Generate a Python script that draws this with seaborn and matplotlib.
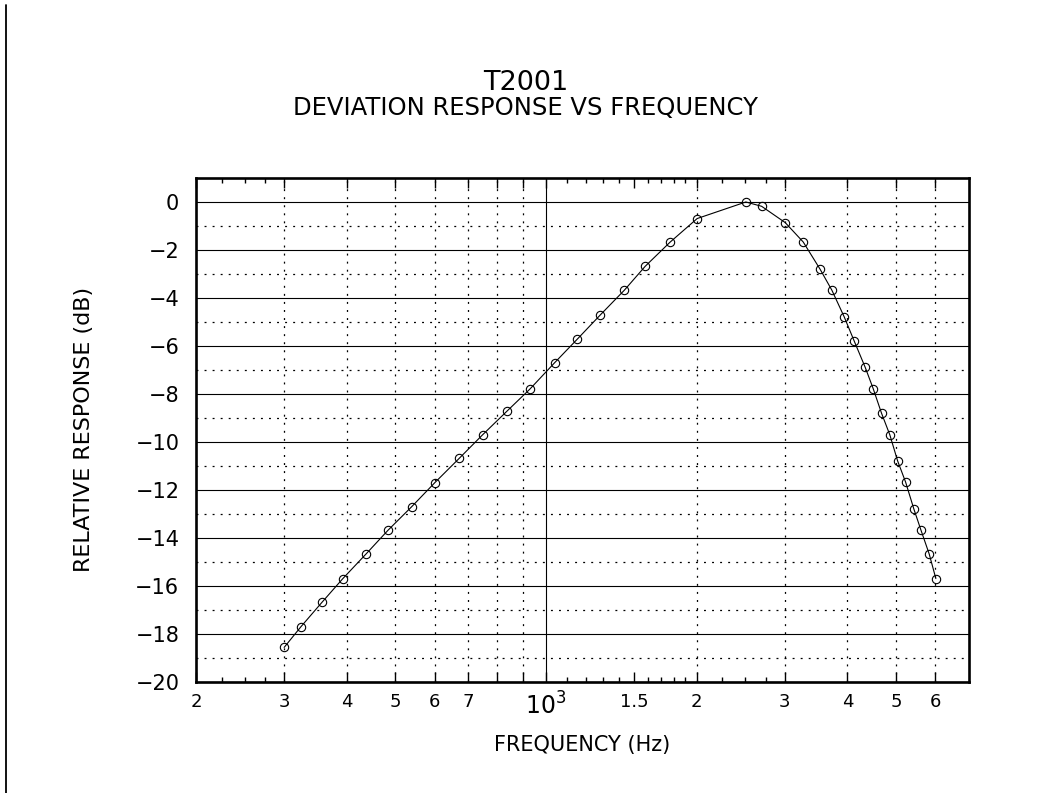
import numpy as np
import pandas as pd
import matplotlib
matplotlib.use("Agg")
import matplotlib.pyplot as plt
import matplotlib.ticker as mticker
from matplotlib.lines import Line2D
import seaborn as sns

# ---- data ----
freq_hz = [300, 324, 357, 393, 437, 484, 539, 600, 671, 747, 837, 929,
           1041, 1155, 1284, 1434, 1579, 1769, 2005, 2508, 2697, 3006,
           3266, 3526, 3726, 3943, 4129, 4342, 4505, 4682, 4864, 5040,
           5230, 5430, 5610, 5830, 6010]
response_db = [-18.57, -17.71, -16.69, -15.70, -14.68, -13.68, -12.71, -11.70,
               -10.69, -9.71, -8.71, -7.80, -6.70, -5.72, -4.71, -3.68, -2.68,
               -1.68, -0.69, 0.0, -0.18, -0.86, -1.67, -2.79, -3.68, -4.79,
               -5.80, -6.89, -7.78, -8.81, -9.71, -10.79, -11.68, -12.79,
               -13.67, -14.68, -15.70]

x_major_ticks = [200, 300, 400, 500, 600, 700, 800, 900, 1000, 1500, 2000, 3000, 4000, 5000, 6000]
x_major_labels = ['2', '3', '4', '5', '6', '7', '', '', '$10^3$', '1.5', '2', '3', '4', '5', '6']
x_minor_ticks = [225, 250, 275, 1100, 1200, 1300, 1400, 1600, 1700, 1800, 1900, 2250, 2500, 2750]
x_dotted_grid = [300, 400, 500, 600, 700, 800, 900, 2000, 3000, 4000, 5000, 6000]
x_solid_grid = [1000]
y_major_ticks = list(range(-20, 1, 2))
y_minor_ticks = list(range(-19, 0, 2))

title_text = "T2001"
subtitle_text = "DEVIATION RESPONSE VS FREQUENCY"
x_label = "FREQUENCY (Hz)"
y_label = "RELATIVE RESPONSE (dB)"

df = pd.DataFrame({"freq": freq_hz, "db": response_db})

sns.set_style("white")
plt.rcParams['font.family'] = ['DejaVu Sans']
plt.rcParams['lines.scale_dashes'] = False
plt.rcParams['mathtext.fontset'] = 'dejavusans'
plt.rcParams['text.color'] = 'black'
plt.rcParams['axes.labelcolor'] = 'black'
plt.rcParams['xtick.color'] = 'black'
plt.rcParams['ytick.color'] = 'black'

W, H = 1051, 793
fig = plt.figure(figsize=(W / 100, H / 100), dpi=100)
left, right, top, bottom = 196, 969, 178, 681.7
ax = fig.add_axes([left / W, 1 - bottom / H, (right - left) / W, (bottom - top) / H])

ax.set_xscale('log')
ax.set_xlim(200, 7000)
ax.set_ylim(-20, 1)

dot = (0, (1.4, 4.4))
for v in x_dotted_grid:
    ax.axvline(v, color='black', lw=0.9, ls=dot, zorder=1)
for v in x_solid_grid:
    ax.axvline(v, color='black', lw=0.8, zorder=1)
for v in y_major_ticks:
    ax.axhline(v, color='black', lw=0.8, zorder=1)
for v in y_minor_ticks:
    ax.axhline(v, color='black', lw=0.9, ls=dot, zorder=1)

sns.lineplot(data=df, x="freq", y="db", ax=ax, color='black', lw=0.8,
             marker='o', markersize=6, markerfacecolor='none',
             markeredgecolor='black', markeredgewidth=0.8, zorder=3)

ax.xaxis.set_major_locator(mticker.FixedLocator(x_major_ticks))
ax.xaxis.set_major_formatter(mticker.FixedFormatter(x_major_labels))
ax.xaxis.set_minor_locator(mticker.FixedLocator(x_minor_ticks))
ax.xaxis.set_minor_formatter(mticker.NullFormatter())
ax.yaxis.set_major_locator(mticker.FixedLocator(y_major_ticks))
ax.yaxis.set_minor_locator(mticker.FixedLocator(y_minor_ticks))
ax.yaxis.set_major_formatter(mticker.FuncFormatter(lambda v, p: f"{int(v)}".replace('-', '\u2212')))

ax.tick_params(axis='x', which='major', direction='in', length=7, width=1,
               top=True, bottom=True, labelsize=13, pad=8, color='black')
ax.tick_params(axis='x', which='minor', direction='in', length=3.5, width=1,
               top=True, bottom=True, color='black')
ax.tick_params(axis='y', which='both', direction='in', length=0,
               left=True, right=True, labelsize=15, pad=12)

for s in ax.spines.values():
    s.set_visible(True)
    s.set_linewidth(1.9)
    s.set_color('black')

ax.set_xlabel(x_label, fontsize=15, labelpad=11)
ax.set_ylabel(y_label, fontsize=16, labelpad=30)
ax.grid(False)

fig.canvas.draw()
for lab in ax.get_xticklabels():
    if lab.get_text() == '$10^3$':
        lab.set_fontsize(17)

fig.text(0.5, 1 - 83 / H, title_text, ha='center', va='center', fontsize=19.5)
fig.text(0.5, 1 - 108.5 / H, subtitle_text, ha='center', va='center', fontsize=17.5)

fig.add_artist(Line2D([6 / W, 6 / W], [0, 1 - 5 / H], transform=fig.transFigure,
                      color='black', lw=1.3))

fig.savefig("out.png", dpi=100, facecolor='white')
